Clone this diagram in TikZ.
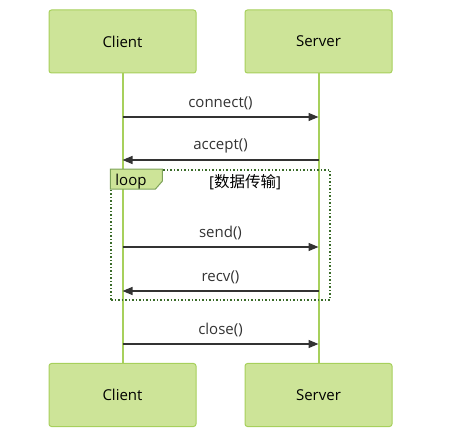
\documentclass[tikz,border=0pt]{standalone}
\usepackage{fontspec}
\setmainfont{Open Sans}
\newfontfamily\cjk{Noto Sans CJK SC}
\usepackage{xcolor}
\usetikzlibrary{positioning,arrows.meta,calc}
\definecolor{actorfill}{HTML}{CDE498}
\definecolor{actorline}{HTML}{A7D05C}
\definecolor{msgline}{HTML}{333333}
\definecolor{loopline}{HTML}{3A6B2A}
\definecolor{tabline}{HTML}{7EA35A}
\tikzset{
  seq/.style={>={Triangle[length=10pt,width=8pt]},
    font=\fontsize{15}{18}\selectfont},
  actor/.style={rectangle,rounded corners=2.5pt,draw=actorline,fill=actorfill,
    line width=1pt,minimum width=147pt,minimum height=63pt},
  lifeline/.style={draw=actorline,line width=2pt},
  msg/.style={->,draw=msgline,line width=1.3pt},
  msglabel/.style={midway,above=5pt,inner sep=1pt,text=msgline},
  loopframe/.style={rectangle,draw=loopline,line width=1.5pt,dotted,
    minimum width=219pt,minimum height=130pt,inner sep=0pt},
  looptab/.style={draw=tabline,fill=actorfill,line width=1pt}
}
\begin{document}
\begin{tikzpicture}[x=1pt,y=-1pt,seq]
  \useasboundingbox (0,0) rectangle (450,446);
  \node[actor] (client) at (122.5,41.5) {Client};
  \node[actor] (server) at (318.5,41.5) {Server};
  \node[actor] (clientb) at (122.5,395) {Client};
  \node[actor] (serverb) at (318.5,395) {Server};
  \draw[lifeline] (client.south) -- (clientb.north);
  \draw[lifeline] (server.south) -- (serverb.north);
  % loop frame
  \node[loopframe] (loop) at (220.5,235) {};
  \draw[looptab] (loop.north west) -- ++(52,0) -- ++(0,12) -- ++(-7,8)
    -- ++(-45,0) -- cycle;
  \node (looplabel) at (131,181.5) {loop};
  \node (guard) at (245,182) {[{\cjk\fontsize{15.5}{18}\selectfont 数据传输}]};
  % messages
  \coordinate (c1) at (client |- 0,117);
  \coordinate (s1) at (server |- 0,117);
  \coordinate (c2) at (client |- 0,160);
  \coordinate (s2) at (server |- 0,160);
  \coordinate (c3) at (client |- 0,247);
  \coordinate (s3) at (server |- 0,247);
  \coordinate (c4) at (client |- 0,291);
  \coordinate (s4) at (server |- 0,291);
  \coordinate (c5) at (client |- 0,344);
  \coordinate (s5) at (server |- 0,344);
  \draw[msg] (c1) -- node[msglabel] {connect()} (s1);
  \draw[msg] (s2) -- node[msglabel] {accept()} (c2);
  \draw[msg] (c3) -- node[msglabel] {send()} (s3);
  \draw[msg] (s4) -- node[msglabel] {recv()} (c4);
  \draw[msg] (c5) -- node[msglabel] {close()} (s5);
\end{tikzpicture}
\end{document}
